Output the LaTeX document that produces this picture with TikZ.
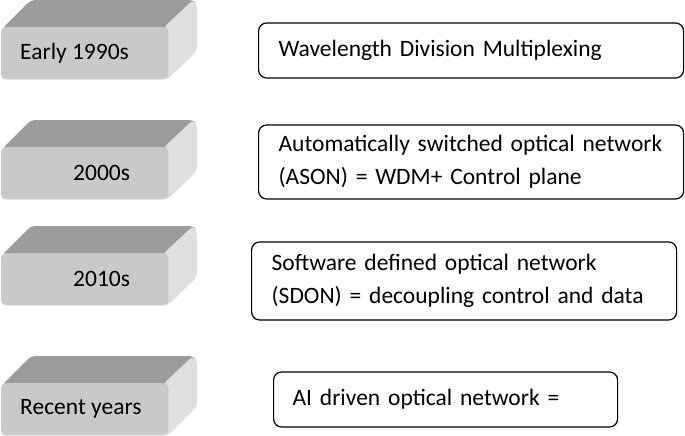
\documentclass[tikz,border=0pt]{standalone}
\usepackage{fontspec}
\setmainfont{Carlito}
\definecolor{slabfront}{HTML}{C9C9C9}
\definecolor{slabtop}{HTML}{9C9C9C}
\definecolor{slabside}{HTML}{DFDFDF}
\tikzset{
  infobox/.style={draw, line width=1.2pt, rounded corners=8pt, anchor=west,
    align=left, inner xsep=20pt, inner ysep=0pt,
    font=\fontsize{23.5}{33}\selectfont},
  yearface/.style={fill=slabfront, draw=black!22, rounded corners=5pt,
    anchor=north west, minimum width=167pt, minimum height=52pt, inner sep=0pt},
  yearlabel/.style={anchor=west, inner sep=0pt, font=\fontsize{23.5}{28}\selectfont}
}
\begin{document}
\begin{tikzpicture}[x=1pt,y=-1pt]
\useasboundingbox (0,0) rectangle (685,436);
% stacked slabs on the left
\foreach \n/\y/\tx/\t in {a/27/20/Early 1990s,b/147/73/2000s,c/253/73/2010s,d/383/20/Recent years} {
    \fill[slabtop, rounded corners=4pt] (2,\y+2) -- (31,\y-27) -- (193,\y-27) -- (197,\y-23) -- (168,\y+4) -- cycle;
    \fill[slabside, rounded corners=4pt] (164,\y) -- (193,\y-27) -- (197,\y-23) -- (197,\y+24) -- (168,\y+52) -- (164,\y+52) -- cycle;
    \node[yearface] (yr\n) at (1,\y) {};
    \node[yearlabel] (lbl\n) at (\tx,\y+26) {\t};
}
% descriptions on the right
\node[infobox, text width=385pt, minimum height=55pt] (wdm) at (258,50.5) {Wavelength Division Multiplexing};
\node[infobox, text width=385pt, minimum height=74pt] (ason) at (258,162) {Automatically switched optical network\\(ASON) = WDM+ Control plane};
\node[infobox, text width=385pt, minimum height=78pt] (sdon) at (251,281) {Software defined optical network\\(SDON) = decoupling control and data};
\node[infobox, inner xsep=19pt, text width=306pt, minimum height=55pt] (ai) at (273,399.5) {AI driven optical network =};
\end{tikzpicture}
\end{document}
